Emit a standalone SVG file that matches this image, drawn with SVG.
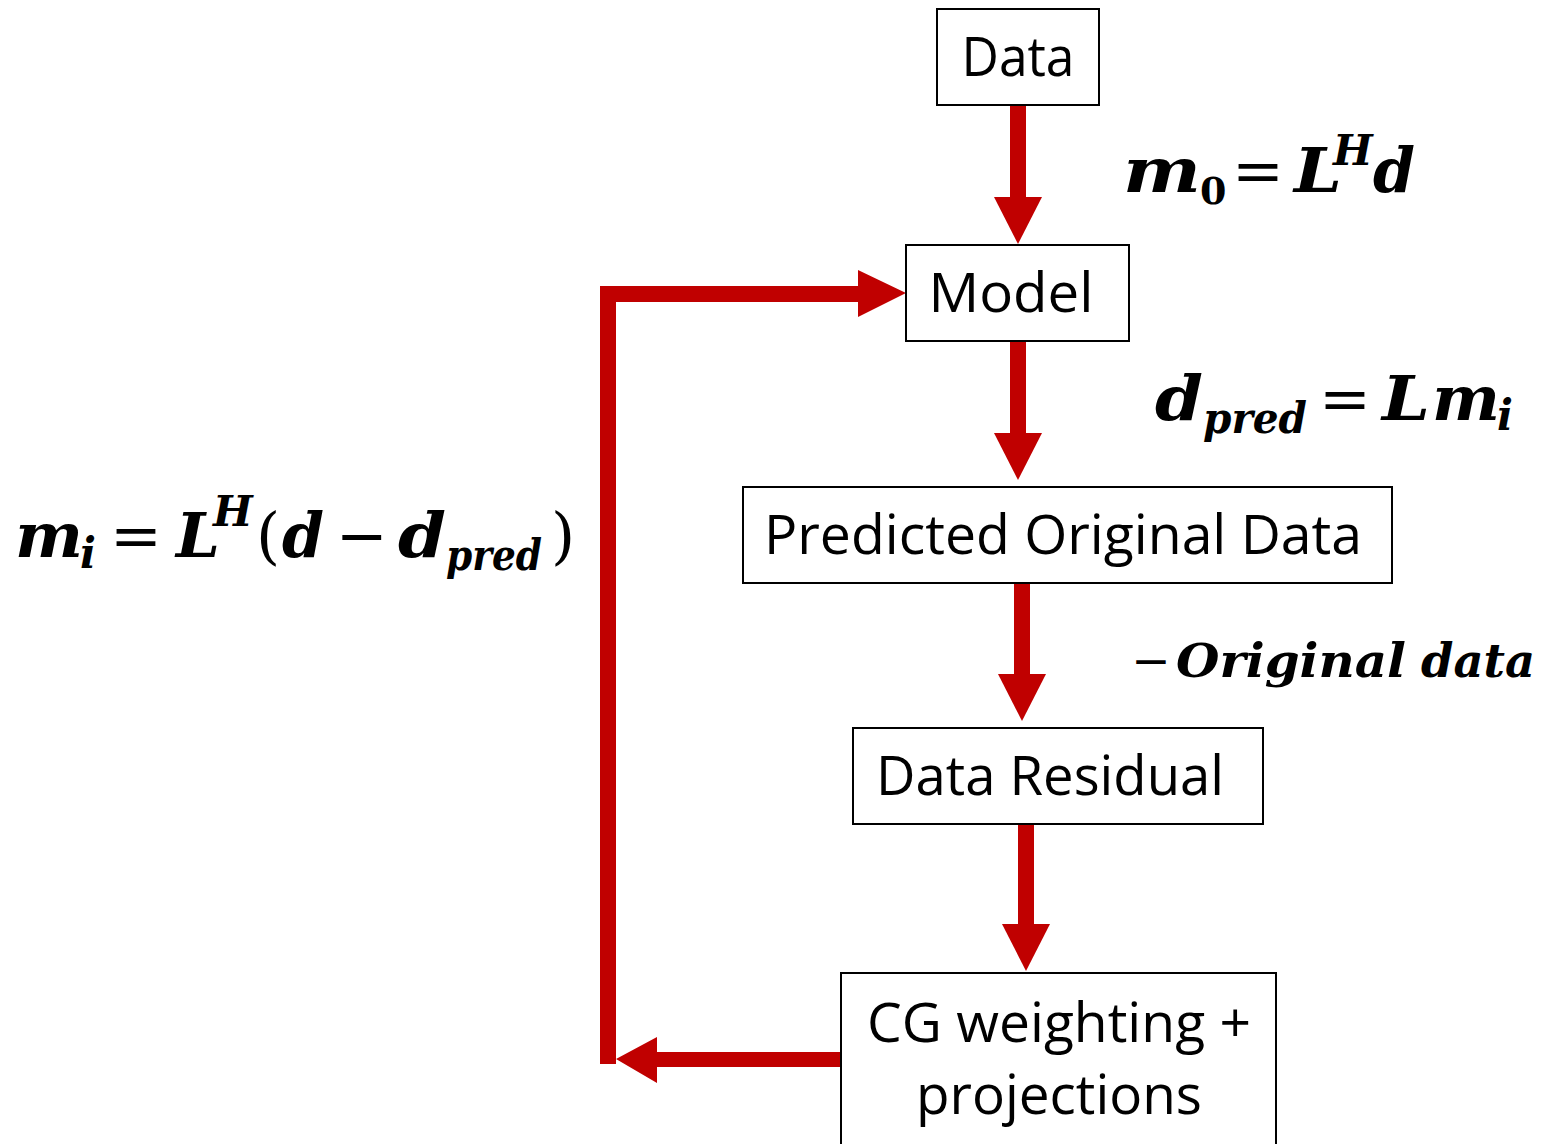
<svg xmlns="http://www.w3.org/2000/svg" width="1545" height="1144" viewBox="0 0 1545 1144">
<style>
.box{fill:#fff;stroke:#000;stroke-width:2}
.lbl{font-family:"Open Sans","Noto Sans",sans-serif;font-size:54px;fill:#000;text-anchor:middle}
.m{font-family:"DejaVu Serif",serif;font-weight:bold;font-style:italic;font-size:62px;fill:#000}
.ms{font-family:"DejaVu Serif",serif;font-weight:bold;font-style:italic;font-size:42px;fill:#000}
.up{font-family:"DejaVu Serif",serif;font-size:62px;fill:#000;text-anchor:middle}
.sub0{font-family:"DejaVu Serif",serif;font-weight:bold;font-size:38px;fill:#000}
.o{font-family:"DejaVu Serif",serif;font-weight:bold;font-style:italic;font-size:47px;fill:#000}
.arr{fill:#C00000}
</style>
<rect width="1545" height="1144" fill="#fff"/>
<g id="connectors" class="arr">
  <rect x="1010" y="106" width="16" height="92"/>
  <polygon points="994,197 1042,197 1018,244"/>
  <rect x="1010" y="342" width="16" height="92"/>
  <polygon points="994,433 1042,433 1018,480"/>
  <rect x="1014" y="584" width="16" height="91"/>
  <polygon points="998,674 1046,674 1022,721"/>
  <rect x="1018" y="825" width="16" height="100"/>
  <polygon points="1002,924 1050,924 1026,971"/>
  <polygon points="841,1052 657,1052 657,1037 616,1059 657,1083 657,1067 841,1067"/>
  <polygon points="616,1064 600,1064 600,286 858,286 858,270 906,293 858,317 858,302 616,302"/>
</g>
<g id="node-data">
  <rect class="box" x="937" y="9" width="162" height="96"/>
  <text class="lbl" x="1018" y="76" textLength="113" lengthAdjust="spacingAndGlyphs">Data</text>
</g>
<g id="node-model">
  <rect class="box" x="906" y="245" width="223" height="96"/>
  <text class="lbl" x="1011" y="312" textLength="165" lengthAdjust="spacingAndGlyphs">Model</text>
</g>
<g id="node-predicted">
  <rect class="box" x="743" y="487" width="649" height="96"/>
  <text class="lbl" x="1063" y="554" textLength="598" lengthAdjust="spacingAndGlyphs">Predicted Original Data</text>
</g>
<g id="node-residual">
  <rect class="box" x="853" y="728" width="410" height="96"/>
  <text class="lbl" x="1050" y="795" textLength="348" lengthAdjust="spacingAndGlyphs">Data Residual</text>
</g>
<g id="node-cg">
  <rect class="box" x="841" y="973" width="435" height="180"/>
  <text class="lbl" x="1059" y="1042" textLength="384" lengthAdjust="spacingAndGlyphs">CG weighting +</text>
  <text class="lbl" x="1059" y="1114" textLength="286" lengthAdjust="spacingAndGlyphs">projections</text>
</g>
<g id="eq-m0">
  <text class="m" x="1123" y="192" textLength="78" lengthAdjust="spacingAndGlyphs">m</text>
  <text class="sub0" x="1200" y="204">0</text>
  <text class="up" x="1258" y="192">=</text>
  <text class="m" x="1294" y="192" textLength="48" lengthAdjust="spacingAndGlyphs">L</text>
  <text class="ms" x="1333" y="165">H</text>
  <text class="m" x="1373" y="192" textLength="42" lengthAdjust="spacingAndGlyphs">d</text>
</g>
<g id="eq-dpred">
  <text class="m" x="1155" y="420" textLength="48" lengthAdjust="spacingAndGlyphs">d</text>
  <text class="ms" x="1203" y="433" textLength="104" lengthAdjust="spacingAndGlyphs">pred</text>
  <text class="up" x="1345" y="420">=</text>
  <text class="m" x="1382" y="420" textLength="48" lengthAdjust="spacingAndGlyphs">L</text>
  <text class="m" x="1432" y="420" textLength="68" lengthAdjust="spacingAndGlyphs">m</text>
  <text class="ms" x="1497" y="430">i</text>
</g>
<g id="eq-mi">
  <text class="m" x="15" y="557" textLength="68" lengthAdjust="spacingAndGlyphs">m</text>
  <text class="ms" x="80" y="568">i</text>
  <text class="up" x="136" y="557">=</text>
  <text class="m" x="176" y="557" textLength="44" lengthAdjust="spacingAndGlyphs">L</text>
  <text class="ms" x="213" y="526">H</text>
  <text class="up" x="268" y="557">(</text>
  <text class="m" x="282" y="557" textLength="42" lengthAdjust="spacingAndGlyphs">d</text>
  <text class="up" x="362" y="557">−</text>
  <text class="m" x="398" y="557" textLength="48" lengthAdjust="spacingAndGlyphs">d</text>
  <text class="ms" x="446" y="570" textLength="96" lengthAdjust="spacingAndGlyphs">pred</text>
  <text class="up" x="563" y="557">)</text>
</g>
<g id="eq-orig">
  <text class="up" style="font-size:47px" x="1151" y="677">−</text>
  <text class="o" x="1176" y="677" textLength="230" lengthAdjust="spacingAndGlyphs">Original</text>
  <text class="o" x="1421" y="677" textLength="114" lengthAdjust="spacingAndGlyphs">data</text>
</g>
</svg>
